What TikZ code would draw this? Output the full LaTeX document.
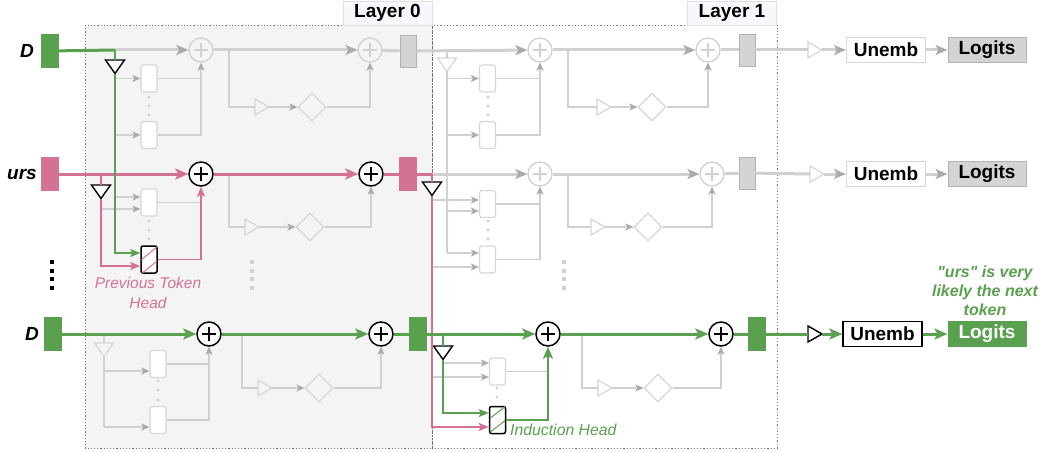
\documentclass[tikz,border=0pt]{standalone}
\usepackage{fontspec}
\setmainfont{Liberation Sans}
\newfontfamily\notefont{Liberation Sans}[Ligatures=TeXOff]
\usetikzlibrary{arrows.meta,shapes.geometric}
\definecolor{gr}{RGB}{89,161,79}
\definecolor{pk}{RGB}{212,114,149}
\definecolor{fl}{RGB}{208,208,208}
\definecolor{fa}{RGB}{170,170,170}
\definecolor{fb}{RGB}{214,214,214}
\definecolor{bgz}{RGB}{244,244,244}
\definecolor{lblc}{RGB}{246,248,252}
\definecolor{lnc}{RGB}{212,212,212}
\definecolor{lnd}{RGB}{178,178,178}
\newcommand{\bigf}{\fontsize{19}{22}\selectfont\bfseries}
\newcommand{\tridn}[4]{%
  \draw[#4] ({#2-9.5},#3) -- ({#2+9.5},#3) -- (#2,{#3+13.5}) -- cycle;
  \coordinate (#1t) at (#2,#3);
  \coordinate (#1b) at (#2,{#3+13.5});}
\newcommand{\trirt}[4]{%
  \draw[#4] (#2,{#3-8}) -- ({#2+14},#3) -- (#2,{#3+8}) -- cycle;
  \coordinate (#1l) at (#2,#3);
  \coordinate (#1r) at ({#2+14},#3);}
\tikzset{
  mainf/.style={draw=fl, line width=3pt},
  mainfa/.style={mainf, -{Stealth[length=12pt,width=10pt,inset=3pt,color=fa]}},
  thinf/.style={draw=fl, line width=1.2pt},
  thinfa/.style={thinf, -{Stealth[length=8pt,width=7pt,inset=2pt,color=fa]}},
  maing/.style={draw=gr, line width=3pt},
  mainga/.style={maing, -{Stealth[length=13pt,width=11pt,inset=3pt]}},
  thing/.style={draw=gr, line width=1.8pt},
  thinga/.style={thing, -{Stealth[length=10pt,width=8pt,inset=2pt]}},
  medga/.style={draw=gr, line width=2.6pt, -{Stealth[length=12pt,width=10pt,inset=3pt]}},
  mainp/.style={draw=pk, line width=3pt},
  mainpa/.style={mainp, -{Stealth[length=13pt,width=11pt,inset=3pt]}},
  thinp/.style={draw=pk, line width=1.6pt},
  thinpa/.style={thinp, -{Stealth[length=10pt,width=8pt,inset=2pt]}},
  pluspic/.style={path picture={\draw[#1, line width=1.4pt] ([xshift=-7pt]path picture bounding box.center) -- ([xshift=7pt]path picture bounding box.center) ([yshift=-7pt]path picture bounding box.center) -- ([yshift=7pt]path picture bounding box.center);}},
  plusf/.style={circle, draw=fl, line width=1.3pt, minimum size=24pt, inner sep=0pt, pluspic=fl},
  plusb/.style={circle, draw=black, fill=white, line width=1.5pt, minimum size=24pt, inner sep=0pt, pluspic=black},
  headf/.style={draw=fb, fill=white, line width=1.2pt, rounded corners=2.5pt, minimum width=16pt, minimum height=27pt, inner sep=0pt},
  headb/.style={draw=black, fill=white, line width=1.5pt, rounded corners=2pt, minimum width=16pt, minimum height=27pt, inner sep=0pt},
  diaf/.style={diamond, draw=fb, line width=1.2pt, minimum width=28pt, minimum height=28pt, inner sep=0pt},
  trif/.style={draw=fb, line width=1.2pt, line join=miter},
  trib/.style={draw=black, fill=white, line width=1.4pt, line join=miter},
  lnf/.style={draw=lnd, fill=lnc, line width=0.8pt, minimum width=16pt, minimum height=32pt, inner sep=0pt},
  lng/.style={draw=gr, fill=gr, minimum width=17pt, minimum height=33pt, inner sep=0pt},
  lnp/.style={draw=pk, fill=pk, minimum width=17pt, minimum height=33pt, inner sep=0pt},
  unf/.style={draw=fb, fill=white, line width=1.3pt, minimum width=79pt, minimum height=25pt, inner sep=0pt, font=\bigf},
  unb/.style={unf, draw=black},
  logf/.style={draw=lnd, fill=lnc, line width=1pt, minimum width=78pt, minimum height=25pt, inner sep=0pt, font=\bigf},
  logg/.style={logf, draw=gr, fill=gr, text=white},
  tok/.style={font=\bigf\itshape, anchor=east, inner sep=0pt},
  lblbox/.style={draw=black!12, fill=lblc, line width=0.8pt, minimum width=89pt, minimum height=24pt, inner sep=0pt, font=\bigf},
  boxb/.style={draw=black!55, line width=0.9pt, dash pattern=on 1.2pt off 2pt},
}
\begin{document}
\begin{tikzpicture}[x=1pt,y=-1pt]
\useasboundingbox (0,0) rectangle (1041,452);
% layer frames
\fill[bgz] (85,25) rectangle (432,448);
\draw[boxb] (85,25) rectangle (432,448);
\draw[boxb] (432,25) rectangle (777,448);
\node[lblbox] (lab0) at (387.5,13) {Layer 0};
\node[lblbox] (lab1) at (732,13) {Layer 1};

% ================= nodes row 1
\node[tok] (d1) at (34,51) {D};
\node[lng] (e1) at (49.5,51) {};
\node[plusf] (a1p1) at (201,50) {};
\node[plusf] (a1p2) at (370,50) {};
\node[lnf] (a1n) at (408,51) {};
\node[plusf] (b1p1) at (540,50) {};
\node[plusf] (b1p2) at (708,50) {};
\node[lnf] (b1n) at (747,50) {};
\node[unf] (u1) at (886,50) {Unemb};
\node[logf] (l1) at (987,50) {Logits};
\node[headf] (a1h1) at (149,78.5) {};
\node[headf] (a1h2) at (149,135) {};
\node[headf] (b1h1) at (487.5,78.5) {};
\node[headf] (b1h2) at (487.5,135) {};
\node[diaf] (a1d) at (312,107) {};
\node[diaf] (b1d) at (652,107) {};
\trirt{a1m}{255}{107}{trif}
\trirt{b1m}{597}{107}{trif}
\trirt{o1t}{808}{50}{trif}
\tridn{a1t}{115}{60}{trib}
\tridn{b1t}{447}{58}{trif}

% ================= nodes row 2
\node[tok] (d2) at (37,174) {urs};
\node[lnp] (e2) at (49.5,174) {};
\node[plusb] (a2p1) at (201,174) {};
\node[plusb] (a2p2) at (371,174) {};
\node[lnp] (a2n) at (408,174) {};
\node[plusf] (b2p1) at (540,174) {};
\node[plusf] (b2p2) at (712,174) {};
\node[lnf] (b2n) at (747,173) {};
\node[unf] (u2) at (886,174) {Unemb};
\node[logf] (l2) at (987,174) {Logits};
\node[headf] (a2h1) at (149,202.5) {};
\node[headb] (pth) at (149,259.5) {};
\node[headf] (b2h1) at (487.5,204) {};
\node[headf] (b2h2) at (487.5,259.5) {};
\node[diaf] (a2d) at (310,227) {};
\node[diaf] (b2d) at (648,227) {};
\trirt{a2m}{245}{227}{trif}
\trirt{b2m}{591}{227}{trif}
\trirt{o2t}{810}{174}{trif}
\tridn{a2t}{101}{185}{trib}
\tridn{b2t}{432}{182}{trib}

% ================= nodes row 3
\node[tok] (d3) at (39,334) {D};
\node[lng] (e3) at (52.5,334) {};
\node[plusb] (a3p1) at (209,334) {};
\node[plusb] (a3p2) at (381,334) {};
\node[lng] (a3n) at (417.5,334) {};
\node[plusb] (b3p1) at (548,334) {};
\node[plusb] (b3p2) at (721,334) {};
\node[lng] (b3n) at (756.5,334) {};
\node[unb] (u3) at (882.5,334) {Unemb};
\node[logg] (l3) at (987,334) {Logits};
\node[headf] (a3h1) at (158,364) {};
\node[headf] (a3h2) at (158,420) {};
\node[headf] (b3h1) at (497.5,371.5) {};
\node[headb] (ih) at (497.5,420) {};
\node[diaf] (a3d) at (319,388) {};
\node[diaf] (b3d) at (658,388) {};
\trirt{a3m}{258}{388}{trif}
\trirt{b3m}{598}{388}{trif}
\trirt{o3t}{808}{334}{trib}
\tridn{a3t}{104}{343}{trif}
\tridn{b3t}{443}{346}{trib}

% hatching of the two highlighted heads
\begin{scope}
\clip ([shift={(1pt,1pt)}]pth.south west) rectangle ([shift={(-1pt,-1pt)}]pth.north east);
\draw[pk, line width=1pt] (141,260) -- (157,247) (141,274) -- (157,261);
\end{scope}
\begin{scope}
\clip ([shift={(1pt,1pt)}]ih.south west) rectangle ([shift={(-1pt,-1pt)}]ih.north east);
\draw[gr, line width=1pt] (489,419) -- (506,406) (489,433) -- (506,420);
\end{scope}

% head dots
\foreach \yy in {97,106,115} {
  \fill[fl] (149,\yy) circle[radius=1.6pt];
  \fill[fl] (488,\yy) circle[radius=1.6pt];}
\foreach \yy in {221,230,239} {
  \fill[fl] (149,\yy) circle[radius=1.6pt];
  \fill[fl] (488,\yy) circle[radius=1.6pt];}
\foreach \yy in {381,390,400} {\fill[fl] (158,\yy) circle[radius=1.6pt];}
\foreach \yy in {388,397} {\fill[fl] (497,\yy) circle[radius=1.6pt];}
% vertical ellipses between rows
\foreach \yy in {262,270.5,279,287.5} {
  \fill[black] (50,\yy-2) rectangle (54,\yy+2);
  \fill[fl] (250,\yy-2) rectangle (254,\yy+2);
  \fill[fl] (562,\yy-2) rectangle (566,\yy+2);}

% ================= junction coordinates
\coordinate (a1j) at (115,50);
\coordinate (a1b) at (229,50);
\coordinate (b1j) at (447,50);
\coordinate (b1b) at (568,50);
\coordinate (a2j) at (101,174);
\coordinate (a2b) at (229,174);
\coordinate (b2j) at (432,174);
\coordinate (b2b) at (568,174);
\coordinate (a3j) at (104,334);
\coordinate (a3b) at (242,334);
\coordinate (b3j) at (443,334);
\coordinate (b3b) at (582,334);

% ================= faint connectors row 1
\draw[mainfa] (a1j) -- (a1p1);
\draw[thinfa] (a1h1.west -| a1tb) -- (a1h1.west);
\draw[thinfa] (a1h2.west -| a1tb) -- (a1h2.west);
\draw[thinf] (a1h1.east) -- (a1h1.east -| a1p1);
\draw[thinfa] (a1h2.east) -| (a1p1.south);
\draw[mainfa] (a1p1) -- (a1p2);
\draw[thinf] (a1b) |- (a1ml);
\draw[thinfa] (a1mr) -- (a1d.west);
\draw[thinfa] (a1d.east) -| (a1p2.south);
\draw[mainf] (a1p2) -- (a1n);
\draw[mainfa] (a1n) -- (b1p1);
\draw[thinf] (b1j) -- (b1tt);
\draw[thinf] (b1tb) -- (b1tb |- 0,253);
\draw[thinfa] (b1h1.west -| b1tb) -- (b1h1.west);
\draw[thinfa] (b1h2.west -| b1tb) -- (b1h2.west);
\draw[thinf] (b1h1.east) -- (b1h1.east -| b1p1);
\draw[thinfa] (b1h2.east) -| (b1p1.south);
\draw[mainfa] (b1p1) -- (b1p2);
\draw[thinf] (b1b) |- (b1ml);
\draw[thinfa] (b1mr) -- (b1d.west);
\draw[thinfa] (b1d.east) -| (b1p2.south);
\draw[mainf] (b1p2) -- (b1n);
\draw[mainf] (b1n) -- (o1tl);
\draw[mainfa] (o1tr) -- (u1);
\draw[mainfa] (u1) -- (l1);

% ================= faint connectors row 2
\draw[thinfa] (a1tb |- 0,197) -- (a2h1.west |- 0,197);
\draw[thinfa] (a2tb |- 0,209) -- (a2h1.west |- 0,209);
\draw[thinf] (a2h1.east) -- (a2h1.east -| a2p1);
\draw[thinf] (a2b) |- (a2ml);
\draw[thinfa] (a2mr) -- (a2d.west);
\draw[thinfa] (a2d.east) -| (a2p2.south);
\draw[mainfa] (b2j) -- (b2p1);
\draw[thinfa] (b2tb |- 0,200) -- (b2h1.west |- 0,200);
\draw[thinfa] (b1tb |- 0,211) -- (b2h1.west |- 0,211);
\draw[thinfa] (b1tb |- 0,253) -- (b2h2.west |- 0,253);
\draw[thinfa] (b2tb |- 0,267) -- (b2h2.west |- 0,267);
\draw[thinf] (b2h1.east) -- (b2h1.east -| b2p1);
\draw[thinfa] (b2h2.east) -| (b2p1.south);
\draw[mainfa] (b2p1) -- (b2p2);
\draw[thinf] (b2b) |- (b2ml);
\draw[thinfa] (b2mr) -- (b2d.west);
\draw[thinfa] (b2d.east) -| (b2p2.south);
\draw[mainf] (b2p2) -- (b2n);
\draw[mainf] (b2n) -- (o2tl);
\draw[mainfa] (o2tr) -- (u2);
\draw[mainfa] (u2) -- (l2);

% ================= faint connectors row 3
\draw[thinf] (a3j) -- (a3tt);
\draw[thinf] (a3tb) -- (a3tb |- 0,427);
\draw[thinfa] (a3tb |- 0,371) -- (a3h1.west |- 0,371);
\draw[thinfa] (a3tb |- 0,427) -- (a3h2.west |- 0,427);
\draw[thinf] (a3h1.east) -- (a3h1.east -| a3p1);
\draw[thinfa] (a3h2.east) -| (a3p1.south);
\draw[thinf] (a3b) |- (a3ml);
\draw[thinfa] (a3mr) -- (a3d.west);
\draw[thinfa] (a3d.east) -| (a3p2.south);
\draw[thinfa] (b3tb |- 0,363) -- (b3h1.west |- 0,363);
\draw[thinfa] (b2tb |- 0,377) -- (b3h1.west |- 0,377);
\draw[thinf] (b3h1.east) -- (b3h1.east -| b3p1);
\draw[thinf] (b3b) |- (b3ml);
\draw[thinfa] (b3mr) -- (b3d.west);
\draw[thinfa] (b3d.east) -| (b3p2.south);

% ================= pink path (token "urs")
\draw[mainpa] (e2) -- (a2p1);
\draw[thinp] (a2j) -- (a2tt);
\draw[thinpa] (a2tb) |- ([yshift=-6.5pt]pth.west);
\draw[thinpa] (pth.east) -| (a2p1.south);
\draw[mainpa] (a2p1) -- (a2p2);
\draw[mainp] (a2p2) -- (a2n);
\draw[mainp] (a2n) -- (b2j);
\draw[thinp] (b2j) -- (b2tt);
\draw[thinpa] (b2tb) |- ([yshift=-7pt]ih.west);

% ================= green paths (token "D")
\draw[maing] (e1) -- (a1j);
\draw[thing] (a1j) -- (a1tt);
\draw[thinga] (a1tb) |- ([yshift=6.5pt]pth.west);
\draw[mainga] (e3) -- (a3p1);
\draw[mainga] (a3p1) -- (a3p2);
\draw[maing] (a3p2) -- (a3n);
\draw[mainga] (a3n) -- (b3p1);
\draw[thing] (b3j) -- (b3tt);
\draw[thinga] (b3tb) |- ([yshift=7pt]ih.west);
\draw[medga] (ih.east) -| (b3p1.south);
\draw[mainga] (b3p1) -- (b3p2);
\draw[maing] (b3p2) -- (b3n);
\draw[maing] (b3n) -- (o3tl);
\draw[mainga] (o3tr) -- (u3);
\draw[mainga] (u3) -- (l3);

% ================= texts
\node[font=\fontsize{15.5}{20}\selectfont\itshape, text=pk, align=center] (ptt) at (148,293) {Previous Token\\Head};
\node[font=\fontsize{15.8}{19}\selectfont\itshape, text=gr, anchor=west, inner sep=0pt] (iht) at (510,430) {Induction Head};
\node[font=\notefont\fontsize{16}{19}\selectfont\bfseries\itshape, text=gr, align=center] (note) at (985,291) {"urs" is very\\likely the next\\token};
\end{tikzpicture}
\end{document}
